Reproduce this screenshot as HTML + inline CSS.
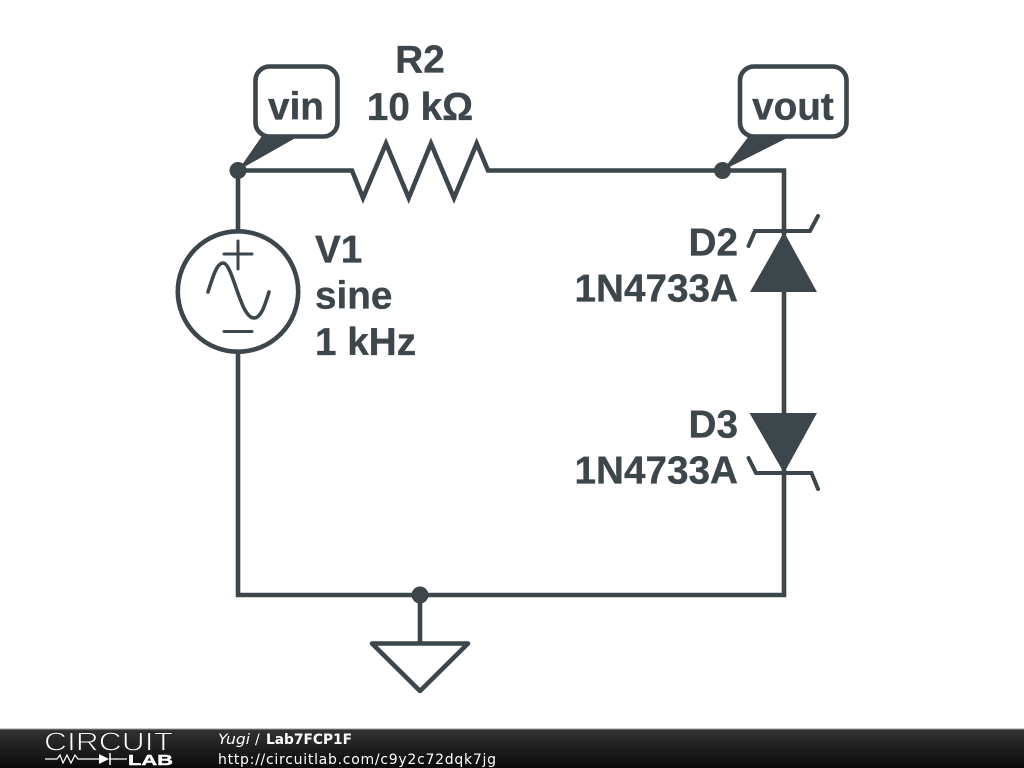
<!DOCTYPE html>
<html>
<head>
<meta charset="utf-8">
<style>
html,body{margin:0;padding:0;background:#fff;width:1024px;height:768px;overflow:hidden}
svg{display:block}
.l{font-family:"Liberation Sans",sans-serif;font-weight:700;font-size:38.7px;fill:#3d464b;stroke:#3d464b;stroke-width:.35px}
.f{font-family:"DejaVu Sans",sans-serif;font-size:14px;fill:#fff}
</style>
</head>
<body>
<svg width="1024" height="768" viewBox="0 0 1024 768" xmlns="http://www.w3.org/2000/svg">
<defs>
<linearGradient id="g" x1="0" y1="0" x2="0" y2="1">
<stop offset="0" stop-color="#333"/>
<stop offset="1" stop-color="#0a0a0a"/>
</linearGradient>
</defs>
<rect width="1024" height="768" fill="#fff"/>
<g fill="none" stroke="#3d464b" stroke-width="4.6" stroke-linejoin="miter">
<path d="M238 229V170.5H352L363 198L386 143.5L408.7 198L431 143.5L454 198L476.7 143.5L488 170.5H784V595H238V354"/>
<path d="M420 595V643"/>
<circle cx="238" cy="291.5" r="60.2"/>
<path d="M372 643.5H468L420 691Z" stroke-linejoin="round"/>
<rect x="255.500" y="66.500" width="82" height="70" rx="14"/>
<rect x="740" y="66.500" width="106.500" height="70" rx="14"/>
<path d="M748.500 246L755 231H810L818 216" stroke-linecap="round" stroke-width="4"/>
<path d="M748.500 458L756 473H811.500L818 489" stroke-linecap="round" stroke-width="4"/>
</g>
<g fill="none" stroke="#3d464b" stroke-width="3.6" stroke-linecap="round">
<path d="M224 254H252M238 241V269M224 331.500H252" stroke-width="3"/>
<path d="M208 292C213 276 217 263 223 263C233 263 240 318 254 318C261 318 265 305 269 292"/>
</g>
<g fill="#3d464b">
<circle cx="238" cy="170.500" r="8.500"/>
<circle cx="722.500" cy="170.500" r="8.500"/>
<circle cx="420" cy="595" r="8.500"/>
<polygon points="262,136 299,136 238,170.500"/>
<polygon points="749,136 791,136 722.500,170.500"/>
<polygon points="784,232 817,292 750,292"/>
<polygon points="749.500,413 817,413 784,473"/>
</g>
<text class="l" x="420" y="72.500" text-anchor="middle">R2</text>
<text class="l" x="420" y="120" text-anchor="middle">10 kΩ</text>
<text class="l" x="296" y="119.500" text-anchor="middle">vin</text>
<text class="l" x="793" y="119.500" text-anchor="middle">vout</text>
<text class="l" x="315" y="262.500">V1</text>
<text class="l" x="315" y="308.500">sine</text>
<text class="l" x="315" y="355">1 kHz</text>
<text class="l" x="738" y="255.500" text-anchor="end">D2</text>
<text class="l" x="738" y="301.500" text-anchor="end">1N4733A</text>
<text class="l" x="738" y="437.500" text-anchor="end">D3</text>
<text class="l" x="738" y="483.500" text-anchor="end">1N4733A</text>
<rect x="0" y="729" width="1024" height="39" fill="url(#g)"/>
<rect x="0" y="728.500" width="1024" height="1" fill="#999"/>
<text x="44" y="750.500" font-family="Liberation Sans,sans-serif" font-size="26" fill="#fff" stroke="#262626" stroke-width=".9" textLength="129" lengthAdjust="spacingAndGlyphs">CIRCUIT</text>
<text x="128" y="765" font-family="Liberation Sans,sans-serif" font-weight="700" font-size="15" fill="#fff" stroke="#fff" stroke-width=".4" textLength="45" lengthAdjust="spacingAndGlyphs">LAB</text>
<path d="M45 759H57L60 755L63 763L67 755L71 763L75 755L78 759H99M115 759H127" fill="none" stroke="#fff" stroke-width="1.200"/>
<path d="M99 754L109 759L99 764Z" fill="#fff"/>
<path d="M110 753V765" stroke="#fff" stroke-width="1.500"/>
<path d="M109 759H116" stroke="#fff" stroke-width="1.200"/>
<text class="f" x="218" y="744" font-style="italic" textLength="32" lengthAdjust="spacingAndGlyphs">Yugi</text>
<text class="f" x="255" y="744">/</text>
<text class="f" x="266" y="744" font-weight="700" textLength="86" lengthAdjust="spacingAndGlyphs">Lab7FCP1F</text>
<text class="f" x="218" y="764" textLength="278">http://circuitlab.com/c9y2c72dqk7jg</text>
</svg>
</body>
</html>
